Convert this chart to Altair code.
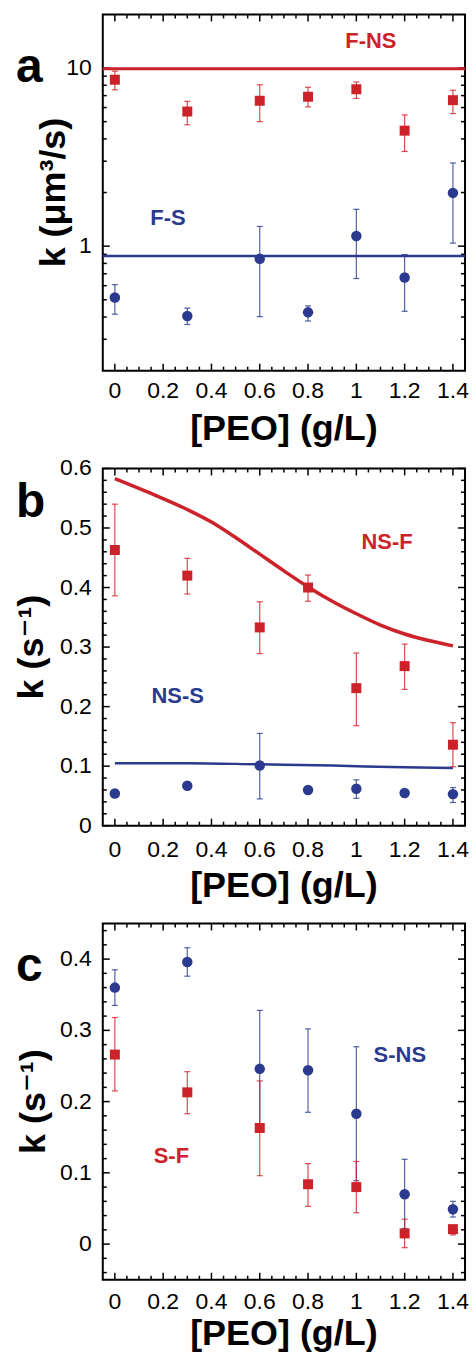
import altair as alt
import pandas as pd

RED = "#cc2229"
BLUE = "#2b3a8e"
FONT = "Liberation Sans, DejaVu Sans"

# ---------------- data ----------------
peo = [0, 0.3, 0.6, 0.8, 1.0, 1.2, 1.4]

# panel a  (um^3/s)
a_fns = [8.6, 5.7, 6.55, 6.9, 7.6, 4.45, 6.6]
a_fns_lo = [7.55, 4.8, 5.0, 6.05, 6.75, 3.4, 5.55]
a_fns_hi = [9.6, 6.5, 8.05, 7.8, 8.35, 5.45, 7.5]
a_fs = [0.515, 0.405, 0.85, 0.425, 1.14, 0.667, 1.99]
a_fs_lo = [0.415, 0.363, 0.402, 0.38, 0.658, 0.431, 1.04]
a_fs_hi = [0.608, 0.449, 1.29, 0.462, 1.61, 0.897, 2.93]
a_fns_fit = [9.9]
a_fs_fit = [0.88]

# panel b  (1/s)
b_nsf = [0.463, 0.420, 0.333, 0.400, 0.231, 0.268, 0.136]
b_nsf_lo = [0.386, 0.389, 0.289, 0.377, 0.168, 0.229, 0.099]
b_nsf_hi = [0.540, 0.449, 0.376, 0.421, 0.290, 0.305, 0.173]
b_nss = [0.054, 0.067, 0.101, 0.060, 0.062, 0.055, 0.053]
b_nss_lo = [0.051, 0.064, 0.045, 0.055, 0.046, 0.052, 0.039]
b_nss_hi = [0.057, 0.070, 0.155, 0.065, 0.077, 0.058, 0.064]
b_fit_nsf_x = [0, 0.15, 0.3, 0.4, 0.5, 0.6, 0.7, 0.8, 0.9, 1.0, 1.1, 1.2, 1.3, 1.4]
b_fit_nsf_y = [0.583, 0.558, 0.531, 0.510, 0.484, 0.456, 0.428, 0.401, 0.377,
               0.356, 0.337, 0.322, 0.311, 0.302]
b_fit_nss_x = [0, 0.3, 0.6, 0.9, 1.2, 1.4]
b_fit_nss_y = [0.105, 0.105, 0.103, 0.101, 0.098, 0.097]

# panel c  (1/s)
c_sns = [0.360, 0.396, 0.246, 0.244, 0.183, 0.070, 0.049]
c_sns_lo = [0.335, 0.376, 0.165, 0.185, 0.089, 0.022, 0.038]
c_sns_hi = [0.385, 0.416, 0.328, 0.302, 0.277, 0.119, 0.060]
c_sf = [0.266, 0.213, 0.163, 0.084, 0.080, 0.015, 0.021]
c_sf_lo = [0.215, 0.183, 0.096, 0.053, 0.044, -0.005, 0.013]
c_sf_hi = [0.318, 0.242, 0.229, 0.113, 0.116, 0.035, 0.026]

# curve labels
a_lab = ["F-NS", "F-S"]; a_lab_x = [1.06, 0.22]; a_lab_y = [14.2, 1.44]
b_lab = ["NS-F", "NS-S"]; b_lab_x = [1.127, 0.26]; b_lab_y = [0.477, 0.218]
c_lab = ["S-NS", "S-F"]; c_lab_x = [1.18, 0.234]; c_lab_y = [0.266, 0.124]

# tick values
x_major = [0, 0.2, 0.4, 0.6, 0.8, 1.0, 1.2, 1.4]
x_minor = [0.05, 0.1, 0.15, 0.25, 0.3, 0.35, 0.45, 0.5, 0.55, 0.65, 0.7, 0.75,
           0.85, 0.9, 0.95, 1.05, 1.1, 1.15, 1.25, 1.3, 1.35]
a_y_major = [1, 10]
a_y_minor = [0.3, 0.4, 0.5, 0.6, 0.7, 0.8, 0.9, 2, 3, 4, 5, 6, 7, 8, 9]
b_y_major = [0, 0.1, 0.2, 0.3, 0.4, 0.5, 0.6]
b_y_minor = [0.02, 0.04, 0.06, 0.08, 0.12, 0.14, 0.16, 0.18, 0.22, 0.24, 0.26,
             0.28, 0.32, 0.34, 0.36, 0.38, 0.42, 0.44, 0.46, 0.48, 0.52, 0.54,
             0.56, 0.58]
c_y_major = [0, 0.1, 0.2, 0.3, 0.4]
c_y_minor = [-0.04, -0.02, 0.02, 0.04, 0.06, 0.08, 0.12, 0.14, 0.16, 0.18, 0.22,
             0.24, 0.26, 0.28, 0.32, 0.34, 0.36, 0.38, 0.42, 0.44]

X_TITLE = "[PEO] (g/L)"
W = 363
XS = alt.Scale(domain=[-0.05, 1.45], nice=False, zero=False)
LABEL_SIZE = 23
TITLE_SIZE = 36


def frame_ticks(ys, ymaj, ymin, H):
    layers = []
    for vals, L in ((x_major, 7), (x_minor, 4)):
        base = alt.Chart(pd.DataFrame({"v": vals})).mark_rule(color="black", strokeWidth=1.5)
        xe = alt.X("v:Q", scale=XS, axis=None)
        layers.append(base.encode(x=xe, y=alt.value(0), y2=alt.value(L)))
        layers.append(base.encode(x=xe, y=alt.value(H - L), y2=alt.value(H)))
    for vals, L in ((ymaj, 7), (ymin, 4)):
        base = alt.Chart(pd.DataFrame({"v": vals})).mark_rule(color="black", strokeWidth=1.5)
        ye = alt.Y("v:Q", scale=ys, axis=None)
        layers.append(base.encode(y=ye, x=alt.value(0), x2=alt.value(L)))
        layers.append(base.encode(y=ye, x=alt.value(W - L), x2=alt.value(W)))
    return layers


def axis_text(ys, ymaj, H, ytitle, lab_dy, title_dy, ytitle_dx):
    xl = alt.Chart(pd.DataFrame({"v": x_major})).mark_text(
        font=FONT, fontSize=LABEL_SIZE, color="black", align="center",
        baseline="alphabetic").encode(
        x=alt.X("v:Q", scale=XS, axis=None), y=alt.value(H + lab_dy),
        text=alt.Text("v:Q", format="~g"))
    yl = alt.Chart(pd.DataFrame({"v": ymaj})).mark_text(
        font=FONT, fontSize=LABEL_SIZE, color="black", align="right",
        baseline="middle").encode(
        y=alt.Y("v:Q", scale=ys, axis=None), x=alt.value(-11),
        text=alt.Text("v:Q", format="~g"))
    xt = alt.Chart(pd.DataFrame({"t": [X_TITLE]})).mark_text(
        font=FONT, fontSize=TITLE_SIZE, fontWeight="bold", color="black",
        align="center", baseline="alphabetic").encode(
        text="t:N", x=alt.value(W / 2), y=alt.value(H + title_dy))
    yt = alt.Chart(pd.DataFrame({"t": [ytitle]})).mark_text(
        font=FONT, fontSize=TITLE_SIZE, fontWeight="bold", color="black",
        align="center", baseline="alphabetic", angle=270).encode(
        text="t:N", x=alt.value(ytitle_dx), y=alt.value(H / 2))
    return [xl, yl, xt, yt]


def series(vals, lo, hi, color, shape, size, ys):
    df = pd.DataFrame({"x": peo, "y": vals, "lo": lo, "hi": hi})
    base = alt.Chart(df)
    xe = alt.X("x:Q", scale=XS, axis=None)
    bars = base.mark_rule(color=color, strokeWidth=1.2, opacity=0.8).encode(
        x=xe, y=alt.Y("lo:Q", scale=ys, axis=None), y2="hi:Q")
    cap1 = base.mark_tick(color=color, orient="horizontal", size=6, thickness=1.2,
                          opacity=0.8).encode(x=xe, y=alt.Y("lo:Q", scale=ys, axis=None))
    cap2 = base.mark_tick(color=color, orient="horizontal", size=6, thickness=1.2,
                          opacity=0.8).encode(x=xe, y=alt.Y("hi:Q", scale=ys, axis=None))
    pts = base.mark_point(shape=shape, filled=True, size=size, color=color,
                          opacity=1).encode(x=xe, y=alt.Y("y:Q", scale=ys, axis=None))
    return [bars, cap1, cap2, pts]


def labels(txt, lx, ly, colors, ys):
    df = pd.DataFrame({"t": txt, "x": lx, "y": ly, "c": colors})
    return alt.Chart(df).mark_text(font=FONT, fontSize=22, fontWeight="bold",
                                   align="center", baseline="middle").encode(
        x=alt.X("x:Q", scale=XS, axis=None), y=alt.Y("y:Q", scale=ys, axis=None),
        text="t:N", color=alt.Color("c:N", scale=None))


def letter(ch, ly):
    return alt.Chart(pd.DataFrame({"t": [ch]})).mark_text(
        font=FONT, fontSize=48, fontWeight="bold", align="left",
        baseline="alphabetic", color="black").encode(
        text="t:N", x=alt.value(-87), y=alt.value(ly))


# ---------------- panel a ----------------
HA = 357
YA = alt.Scale(type="log", domain=[0.2, 20], nice=False)
lines_a = [
    alt.Chart(pd.DataFrame({"y": a_fns_fit})).mark_rule(color=RED, strokeWidth=3).encode(
        y=alt.Y("y:Q", scale=YA, axis=None)),
    alt.Chart(pd.DataFrame({"y": a_fs_fit})).mark_rule(color=BLUE, strokeWidth=2.5).encode(
        y=alt.Y("y:Q", scale=YA, axis=None)),
]
pa = alt.layer(
    *frame_ticks(YA, a_y_major, a_y_minor, HA),
    *lines_a,
    *series(a_fns, a_fns_lo, a_fns_hi, RED, "square", 100, YA),
    *series(a_fs, a_fs_lo, a_fs_hi, BLUE, "circle", 110, YA),
    labels(a_lab, a_lab_x, a_lab_y, [RED, BLUE], YA),
    *axis_text(YA, a_y_major, HA, "k (μm³/s)", 27, 69, -38),
    letter("a", 68),
).properties(width=W, height=HA)

# ---------------- panel b ----------------
HB = 358
YB = alt.Scale(domain=[0, 0.6], nice=False, zero=False)
lines_b = [
    alt.Chart(pd.DataFrame({"x": b_fit_nsf_x, "y": b_fit_nsf_y})).mark_line(
        color=RED, strokeWidth=3.5, interpolate="monotone").encode(
        x=alt.X("x:Q", scale=XS, axis=None), y=alt.Y("y:Q", scale=YB, axis=None)),
    alt.Chart(pd.DataFrame({"x": b_fit_nss_x, "y": b_fit_nss_y})).mark_line(
        color=BLUE, strokeWidth=2.5, interpolate="monotone").encode(
        x=alt.X("x:Q", scale=XS, axis=None), y=alt.Y("y:Q", scale=YB, axis=None)),
]
pb = alt.layer(
    *frame_ticks(YB, b_y_major, b_y_minor, HB),
    *lines_b,
    *series(b_nss, b_nss_lo, b_nss_hi, BLUE, "circle", 110, YB),
    *series(b_nsf, b_nsf_lo, b_nsf_hi, RED, "square", 100, YB),
    labels(b_lab, b_lab_x, b_lab_y, [RED, BLUE], YB),
    *axis_text(YB, b_y_major, HB, "k (s⁻¹)", 31, 71, -60),
    letter("b", 49),
).properties(width=W, height=HB)

# ---------------- panel c ----------------
HC = 357
YC = alt.Scale(domain=[-0.05, 0.45], nice=False, zero=False)
pc = alt.layer(
    *frame_ticks(YC, c_y_major, c_y_minor, HC),
    *series(c_sns, c_sns_lo, c_sns_hi, BLUE, "circle", 110, YC),
    *series(c_sf, c_sf_lo, c_sf_hi, RED, "square", 100, YC),
    labels(c_lab, c_lab_x, c_lab_y, [BLUE, RED], YC),
    *axis_text(YC, c_y_major, HC, "k (s⁻¹)", 29, 65, -58),
    letter("c", 58),
).properties(width=W, height=HC)

chart = alt.vconcat(pa, pb, pc, spacing=98, bounds="flush").properties(
    padding={"left": 13, "top": 11, "right": 2, "bottom": 2},
    background="white",
).configure_view(stroke="black", strokeWidth=2)

chart.save("out.html", embed_options={"renderer": "svg", "actions": False})
